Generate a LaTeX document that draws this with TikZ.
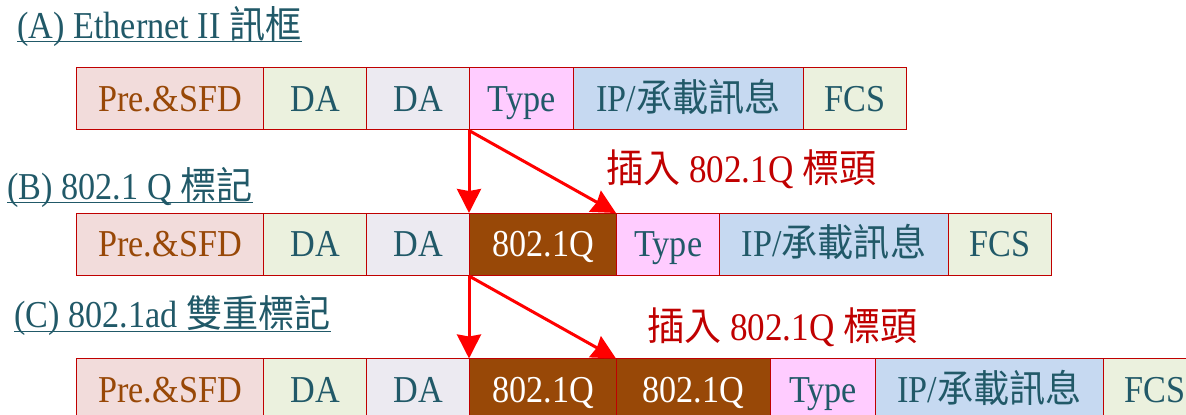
\documentclass[tikz,border=0pt]{standalone}
\usepackage{fontspec}
\setmainfont{Liberation Serif}[FakeStretch=0.9]
\newfontfamily\cjk{Noto Sans CJK TC}[FakeStretch=0.95]
\usetikzlibrary{arrows.meta}

\definecolor{framered}{HTML}{C00000}
\definecolor{tealtext}{HTML}{215968}
\definecolor{brownq}{HTML}{984807}
\definecolor{prefill}{HTML}{F2DCDB}
\definecolor{greenfill}{HTML}{EBF1DE}
\definecolor{lilacfill}{HTML}{ECEAF1}
\definecolor{typefill}{HTML}{FFCCFF}
\definecolor{ipfill}{HTML}{C6D9F1}
\definecolor{notered}{HTML}{C00000}
\newcommand{\zh}[1]{{\cjk #1}}

\begin{document}
\begin{tikzpicture}[x=0.5pt, y=-0.5pt,
    field/.style={draw=framered, line width=0.5pt, inner sep=0pt, anchor=west,
      minimum height=31pt, text height=12.5pt, text depth=0pt, text=tealtext,
      font=\fontsize{19}{22}\selectfont},
    pre/.style={field, fill=prefill, text=brownq, minimum width=93.5pt},
    da/.style={field, fill=greenfill, minimum width=51.5pt},
    da2/.style={field, fill=lilacfill, minimum width=51.5pt},
    typ/.style={field, fill=typefill, minimum width=51.75pt},
    ip/.style={field, fill=ipfill, minimum width=114.5pt},
    fcs/.style={field, fill=greenfill, minimum width=51.5pt},
    tag/.style={field, fill=brownq, text=white, minimum width=73.5pt},
    head/.style={inner sep=0pt, anchor=base west, text=tealtext, font=\fontsize{19}{22}\selectfont},
    headline/.style={draw=tealtext, line width=0.5pt},
    note/.style={inner sep=0pt, anchor=base west, text=notered, font=\fontsize{19.5}{24}\selectfont},
    tagarrow/.style={draw=red, line width=1.5pt, -{Stealth[length=12pt, width=12pt, inset=1pt]}}]

    \useasboundingbox (0,0) rectangle (1186,415);

    \node[head] (ha) at (17,39) {(A) Ethernet II \zh{訊框}};
    \node[head] (hb) at (7,200) {(B) 802.1 Q \zh{標記}};
    \node[head] (hc) at (14,328) {(C) 802.1ad \zh{雙重標記}};

    \node[pre] (a1) at (76,99) {Pre.\&SFD};
    \node[da] (a2) at (263,99) {DA};
    \node[da2] (a3) at (366,99) {DA};
    \node[typ, minimum width=52pt] (a4) at (469,99) {Type};
    \node[ip, minimum width=115pt] (a5) at (573,99) {IP/\zh{承載訊息}};
    \node[fcs] (a6) at (803,99) {FCS};

    \node[pre] (b1) at (76,244.5) {Pre.\&SFD};
    \node[da] (b2) at (263,244.5) {DA};
    \node[da2] (b3) at (366,244.5) {DA};
    \node[tag] (b4) at (469,244.5) {802.1Q};
    \node[typ] (b5) at (616,244.5) {Type};
    \node[ip] (b6) at (719,244.5) {IP/\zh{承載訊息}};
    \node[fcs] (b7) at (948,244.5) {FCS};

    \node[pre] (c1) at (76,390) {Pre.\&SFD};
    \node[da] (c2) at (263,390) {DA};
    \node[da2] (c3) at (366,390) {DA};
    \node[tag] (c4) at (469,390) {802.1Q};
    \node[tag, minimum width=77pt] (c5) at (616,390) {802.1Q};
    \node[typ, minimum width=52.5pt] (c6) at (770,390) {Type};
    \node[ip, minimum width=114pt] (c7) at (875,390) {IP/\zh{承載訊息}};
    \node[fcs] (c8) at (1103,390) {FCS};

    \node[note] (n1) at (606,183) {\zh{插入} 802.1Q \zh{標頭}};
    \node[note] (n2) at (647,341) {\zh{插入} 802.1Q \zh{標頭}};

    \draw[headline] ([yshift=-1.5pt]ha.base west) -- ([yshift=-1.5pt]ha.base east);
    \draw[headline] ([yshift=-1.2pt]hb.base west) -- ([yshift=-1.2pt]hb.base east);
    \draw[headline] ([yshift=-2pt]hc.base west) -- ([yshift=-2pt]hc.base east);

    \draw[tagarrow] (a4.south west) -- (b4.north west);
    \draw[tagarrow] (a4.south west) -- (b5.north west);
    \draw[tagarrow] (b4.south west) -- (c4.north west);
    \draw[tagarrow] (b4.south west) -- (c5.north west);

\end{tikzpicture}
\end{document}
